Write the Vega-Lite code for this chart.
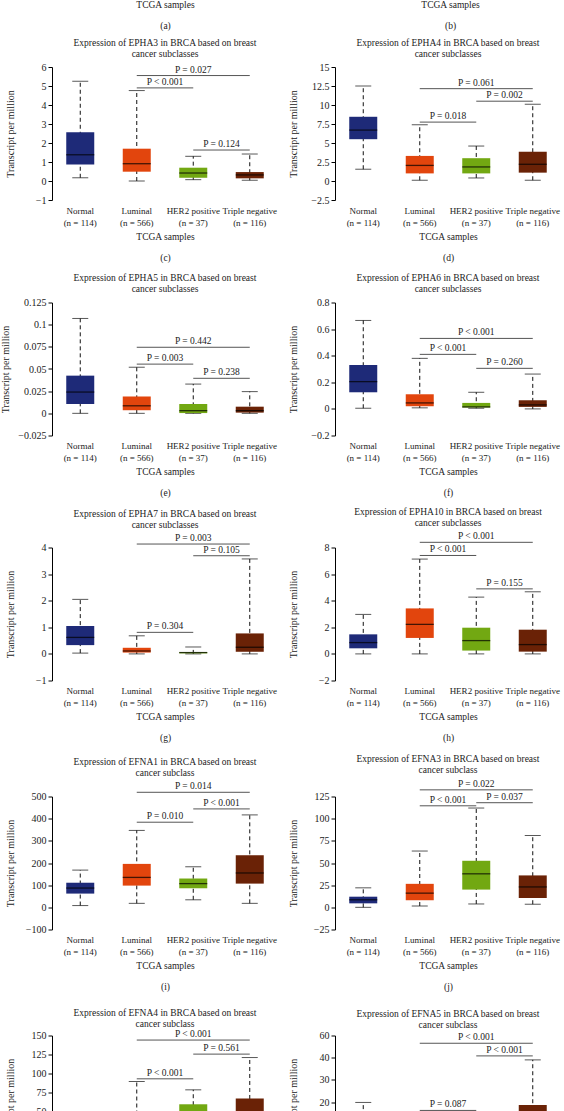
{
"$schema": "https://vega.github.io/schema/vega-lite/v6.json",
"padding": {"top": -3, "left": 0, "right": 0, "bottom": 0},
"background": "white",
"datasets": {
"boxes": [
{"panel":"c","cat":"Normal","min":0.17,"q1":0.87,"med":1.38,"q3":2.57,"max":5.25},
{"panel":"c","cat":"Luminal","min":0.0,"q1":0.49,"med":0.91,"q3":1.70,"max":4.76},
{"panel":"c","cat":"HER2 positive","min":0.07,"q1":0.17,"med":0.42,"q3":0.70,"max":1.30},
{"panel":"c","cat":"Triple negative","min":0.04,"q1":0.14,"med":0.32,"q3":0.47,"max":1.42},
{"panel":"d","cat":"Normal","min":1.55,"q1":5.5,"med":6.7,"q3":8.45,"max":12.5},
{"panel":"d","cat":"Luminal","min":0.1,"q1":1.0,"med":2.05,"q3":3.3,"max":7.4},
{"panel":"d","cat":"HER2 positive","min":0.4,"q1":1.0,"med":1.85,"q3":3.0,"max":4.6},
{"panel":"d","cat":"Triple negative","min":0.1,"q1":1.1,"med":2.2,"q3":3.85,"max":10.1},
{"panel":"e","cat":"Normal","min":0.0,"q1":0.0105,"med":0.024,"q3":0.0425,"max":0.107},
{"panel":"e","cat":"Luminal","min":0.0,"q1":0.0035,"med":0.0085,"q3":0.019,"max":0.052},
{"panel":"e","cat":"HER2 positive","min":0.0,"q1":0.0003,"med":0.003,"q3":0.0105,"max":0.033},
{"panel":"e","cat":"Triple negative","min":0.0,"q1":0.0008,"med":0.003,"q3":0.0075,"max":0.0245},
{"panel":"f","cat":"Normal","min":0.005,"q1":0.125,"med":0.205,"q3":0.33,"max":0.665},
{"panel":"f","cat":"Luminal","min":0.008,"q1":0.02,"med":0.045,"q3":0.11,"max":0.38},
{"panel":"f","cat":"HER2 positive","min":0.005,"q1":0.01,"med":0.015,"q3":0.045,"max":0.125},
{"panel":"f","cat":"Triple negative","min":0.0,"q1":0.015,"med":0.03,"q3":0.065,"max":0.262},
{"panel":"g","cat":"Normal","min":0.03,"q1":0.33,"med":0.62,"q3":1.05,"max":2.05},
{"panel":"g","cat":"Luminal","min":0.0,"q1":0.05,"med":0.11,"q3":0.23,"max":0.68},
{"panel":"g","cat":"HER2 positive","min":0.0,"q1":0.02,"med":0.05,"q3":0.07,"max":0.26},
{"panel":"g","cat":"Triple negative","min":0.0,"q1":0.08,"med":0.25,"q3":0.77,"max":3.57},
{"panel":"h","cat":"Normal","min":0.0,"q1":0.42,"med":0.85,"q3":1.47,"max":2.97},
{"panel":"h","cat":"Luminal","min":0.0,"q1":1.2,"med":2.22,"q3":3.42,"max":7.13},
{"panel":"h","cat":"HER2 positive","min":0.0,"q1":0.25,"med":1.0,"q3":1.97,"max":4.27},
{"panel":"h","cat":"Triple negative","min":0.0,"q1":0.17,"med":0.7,"q3":1.82,"max":4.67},
{"panel":"i","cat":"Normal","min":8,"q1":62,"med":87,"q3":111,"max":168},
{"panel":"i","cat":"Luminal","min":18,"q1":98,"med":135,"q3":196,"max":347},
{"panel":"i","cat":"HER2 positive","min":34,"q1":86,"med":107,"q3":130,"max":183},
{"panel":"i","cat":"Triple negative","min":18,"q1":107,"med":155,"q3":235,"max":417},
{"panel":"j","cat":"Normal","min":0,"q1":4.5,"med":8.5,"q3":12,"max":22},
{"panel":"j","cat":"Luminal","min":1.5,"q1":8,"med":16,"q3":26.5,"max":63.5},
{"panel":"j","cat":"HER2 positive","min":3.8,"q1":20,"med":37.8,"q3":52.5,"max":112},
{"panel":"j","cat":"Triple negative","min":3.5,"q1":10.5,"med":23,"q3":36,"max":81},
{"panel":"k","cat":"Normal","min":1,"q1":4,"med":8,"q3":14,"max":30},
{"panel":"k","cat":"Luminal","min":0,"q1":10,"med":22,"q3":45,"max":89.5},
{"panel":"k","cat":"HER2 positive","min":3,"q1":20,"med":35,"q3":59.5,"max":78.5},
{"panel":"k","cat":"Triple negative","min":2,"q1":15,"med":32,"q3":67,"max":121},
{"panel":"l","cat":"Normal","min":1,"q1":5,"med":8,"q3":11,"max":19.8},
{"panel":"l","cat":"Luminal","min":0,"q1":1.5,"med":3,"q3":6,"max":13},
{"panel":"l","cat":"HER2 positive","min":0.5,"q1":2,"med":4,"q3":7,"max":14},
{"panel":"l","cat":"Triple negative","min":0.5,"q1":4,"med":9,"q3":18.7,"max":39}
],
"pvals": [
{"panel":"c","cat":"Luminal","cat2":"Triple negative","y":5.55,"label":"P = 0.027"},
{"panel":"c","cat":"Luminal","cat2":"HER2 positive","y":4.9,"label":"P < 0.001"},
{"panel":"c","cat":"HER2 positive","cat2":"Triple negative","y":1.63,"label":"P = 0.124"},
{"panel":"d","cat":"Luminal","cat2":"Triple negative","y":12.15,"label":"P = 0.061"},
{"panel":"d","cat":"HER2 positive","cat2":"Triple negative","y":10.5,"label":"P = 0.002"},
{"panel":"d","cat":"Luminal","cat2":"HER2 positive","y":7.75,"label":"P = 0.018"},
{"panel":"e","cat":"Luminal","cat2":"Triple negative","y":0.0745,"label":"P = 0.442"},
{"panel":"e","cat":"Luminal","cat2":"HER2 positive","y":0.0555,"label":"P = 0.003"},
{"panel":"e","cat":"HER2 positive","cat2":"Triple negative","y":0.0395,"label":"P = 0.238"},
{"panel":"f","cat":"Luminal","cat2":"Triple negative","y":0.53,"label":"P < 0.001"},
{"panel":"f","cat":"Luminal","cat2":"HER2 positive","y":0.41,"label":"P < 0.001"},
{"panel":"f","cat":"HER2 positive","cat2":"Triple negative","y":0.305,"label":"P = 0.260"},
{"panel":"g","cat":"Luminal","cat2":"Triple negative","y":4.13,"label":"P = 0.003"},
{"panel":"g","cat":"HER2 positive","cat2":"Triple negative","y":3.69,"label":"P = 0.105"},
{"panel":"g","cat":"Luminal","cat2":"HER2 positive","y":0.81,"label":"P = 0.304"},
{"panel":"h","cat":"Luminal","cat2":"Triple negative","y":8.39,"label":"P < 0.001"},
{"panel":"h","cat":"Luminal","cat2":"HER2 positive","y":7.4,"label":"P < 0.001"},
{"panel":"h","cat":"HER2 positive","cat2":"Triple negative","y":4.89,"label":"P = 0.155"},
{"panel":"i","cat":"Luminal","cat2":"Triple negative","y":519,"label":"P = 0.014"},
{"panel":"i","cat":"HER2 positive","cat2":"Triple negative","y":444,"label":"P < 0.001"},
{"panel":"i","cat":"Luminal","cat2":"HER2 positive","y":384,"label":"P = 0.010"},
{"panel":"j","cat":"Luminal","cat2":"Triple negative","y":132.5,"label":"P = 0.022"},
{"panel":"j","cat":"HER2 positive","cat2":"Triple negative","y":118,"label":"P = 0.037"},
{"panel":"j","cat":"Luminal","cat2":"HER2 positive","y":114.5,"label":"P < 0.001"},
{"panel":"k","cat":"Luminal","cat2":"Triple negative","y":144,"label":"P < 0.001"},
{"panel":"k","cat":"HER2 positive","cat2":"Triple negative","y":125.5,"label":"P = 0.561"},
{"panel":"k","cat":"Luminal","cat2":"HER2 positive","y":93,"label":"P < 0.001"},
{"panel":"l","cat":"Luminal","cat2":"Triple negative","y":46.5,"label":"P < 0.001"},
{"panel":"l","cat":"HER2 positive","cat2":"Triple negative","y":40.8,"label":"P < 0.001"},
{"panel":"l","cat":"Luminal","cat2":"HER2 positive","y":16.2,"label":"P = 0.087"}
]
},
"config": {
"font": "Liberation Serif",
"view": {"stroke": null},
"title": {"font": "Liberation Serif", "fontSize": 9.5, "fontWeight": "normal", "color": "#222", "lineHeight": 11, "offset": 4, "anchor": "middle", "frame": "group"},
"axis": {"grid": false, "labelFont": "Liberation Serif", "titleFont": "Liberation Serif", "labelColor": "#222", "titleColor": "#222", "titleFontWeight": "normal"},
"axisX": {"ticks": false, "domain": false, "labelAngle": 0, "labelFontSize": 9, "labelLineHeight": 12, "labelPadding": 6, "labelOverlap": false, "titleFontSize": 9.5, "titleLineHeight": 21, "titlePadding": 4},
"axisY": {"tickSize": 4, "tickColor": "#000", "domainColor": "#000", "labelFontSize": 10, "labelPadding": 2, "titleFontSize": 10, "titlePadding": 7, "minExtent": 30, "format": ".3~f", "tickCount": 20}
},
"spacing": 16.5,
"vconcat": [
{"spacing": 11.5, "vconcat": [
{"spacing": 9.5, "vconcat": [
{"spacing": 10.5, "vconcat": [
{"spacing": 7, "vconcat": [
{"hconcat": [
{"width": 226, "height": 1, "data": {"name": "boxes"}, "transform": [{"filter": "datum.panel == 'c'"}], "mark": {"type": "tick", "opacity": 0}, "encoding": {"x": {"field": "cat", "type": "nominal", "scale": {"domain": ["Normal","Luminal","HER2 positive","Triple negative"]}, "axis": {"labels": false, "labelPadding": 0, "title": ["TCGA samples", "(a)"], "titlePadding": 0}}, "y": {"field": "max", "type": "quantitative", "axis": {"labels": false, "ticks": false, "domain": false, "title": null, "minExtent": 49, "maxExtent": 49}}}},
{"width": 226, "height": 1, "data": {"name": "boxes"}, "transform": [{"filter": "datum.panel == 'd'"}], "mark": {"type": "tick", "opacity": 0}, "encoding": {"x": {"field": "cat", "type": "nominal", "scale": {"domain": ["Normal","Luminal","HER2 positive","Triple negative"]}, "axis": {"labels": false, "labelPadding": 0, "title": ["TCGA samples", "(b)"], "titlePadding": 0}}, "y": {"field": "max", "type": "quantitative", "axis": {"labels": false, "ticks": false, "domain": false, "title": null, "minExtent": 49, "maxExtent": 49}}}}
], "spacing": 10},
{"hconcat": [
{"width": 226, "height": 133, "title": {"text": ["Expression of EPHA3 in BRCA based on breast", "cancer subclasses"]}, "data": {"name": "boxes"}, "transform": [{"filter": "datum.panel == 'c'"}],
"encoding": {"x": {"field": "cat", "type": "nominal", "scale": {"domain": ["Normal","Luminal","HER2 positive","Triple negative"], "paddingInner": 0, "paddingOuter": 0}, "axis": {"title": ["TCGA samples", "(c)"], "labelExpr": "datum.value == 'Normal' ? ['Normal', '(n = 114)'] : datum.value == 'Luminal' ? ['Luminal', '(n = 566)'] : datum.value == 'HER2 positive' ? ['HER2 positive', '(n = 37)'] : ['Triple negative', '(n = 116)']"}}},
"layer": [
{"mark": {"type": "rule", "strokeDash": [4, 3], "color": "#111"}, "encoding": {"y": {"field": "min", "type": "quantitative", "scale": {"domain": [-1, 6], "nice": false, "zero": false}, "axis": {"values": [-1,0,1,2,3,4,5,6], "tickCount": 20, "title": "Transcript per million"}}, "y2": {"field": "max"}}},
{"mark": {"type": "tick", "orient": "horizontal", "size": 16, "thickness": 1, "color": "#111"}, "encoding": {"y": {"field": "max", "type": "quantitative"}}},
{"mark": {"type": "tick", "orient": "horizontal", "size": 16, "thickness": 1, "color": "#111"}, "encoding": {"y": {"field": "min", "type": "quantitative"}}},
{"mark": {"type": "bar", "width": 28}, "encoding": {"y": {"field": "q1", "type": "quantitative"}, "y2": {"field": "q3"}, "color": {"field": "cat", "type": "nominal", "scale": {"domain": ["Normal","Luminal","HER2 positive","Triple negative"], "range": ["#1e2a78","#e2450d","#72a812","#6a2206"]}, "legend": null}}},
{"mark": {"type": "tick", "orient": "horizontal", "size": 28, "thickness": 1.3, "color": "#000"}, "encoding": {"y": {"field": "med", "type": "quantitative"}}},
{"data": {"name": "pvals"}, "transform": [{"filter": "datum.panel == 'c'"}], "mark": {"type": "rule", "color": "#555"}, "encoding": {"x2": {"field": "cat2"}, "y": {"field": "y", "type": "quantitative"}}},
{"data": {"name": "pvals"}, "transform": [{"filter": "datum.panel == 'c' && datum.cat == 'Luminal' && datum.cat2 == 'Triple negative'"}], "mark": {"type": "text", "baseline": "bottom", "dy": -1, "fontSize": 9.5, "color": "#222"}, "encoding": {"x": {"field": "cat", "type": "nominal", "bandPosition": 1.5}, "y": {"field": "y", "type": "quantitative"}, "text": {"field": "label"}}},
{"data": {"name": "pvals"}, "transform": [{"filter": "datum.panel == 'c' && !(datum.cat == 'Luminal' && datum.cat2 == 'Triple negative')"}], "mark": {"type": "text", "baseline": "bottom", "dy": -1, "fontSize": 9.5, "color": "#222"}, "encoding": {"x": {"field": "cat", "type": "nominal", "bandPosition": 1}, "y": {"field": "y", "type": "quantitative"}, "text": {"field": "label"}}}
]},
{"width": 226, "height": 133, "title": {"text": ["Expression of EPHA4 in BRCA based on breast", "cancer subclasses"]}, "data": {"name": "boxes"}, "transform": [{"filter": "datum.panel == 'd'"}],
"encoding": {"x": {"field": "cat", "type": "nominal", "scale": {"domain": ["Normal","Luminal","HER2 positive","Triple negative"], "paddingInner": 0, "paddingOuter": 0}, "axis": {"title": ["TCGA samples", "(d)"], "labelExpr": "datum.value == 'Normal' ? ['Normal', '(n = 114)'] : datum.value == 'Luminal' ? ['Luminal', '(n = 566)'] : datum.value == 'HER2 positive' ? ['HER2 positive', '(n = 37)'] : ['Triple negative', '(n = 116)']"}}},
"layer": [
{"mark": {"type": "rule", "strokeDash": [4, 3], "color": "#111"}, "encoding": {"y": {"field": "min", "type": "quantitative", "scale": {"domain": [-2.5, 15], "nice": false, "zero": false}, "axis": {"values": [-2.5,0,2.5,5,7.5,10,12.5,15], "tickCount": 20, "title": "Transcript per million"}}, "y2": {"field": "max"}}},
{"mark": {"type": "tick", "orient": "horizontal", "size": 16, "thickness": 1, "color": "#111"}, "encoding": {"y": {"field": "max", "type": "quantitative"}}},
{"mark": {"type": "tick", "orient": "horizontal", "size": 16, "thickness": 1, "color": "#111"}, "encoding": {"y": {"field": "min", "type": "quantitative"}}},
{"mark": {"type": "bar", "width": 28}, "encoding": {"y": {"field": "q1", "type": "quantitative"}, "y2": {"field": "q3"}, "color": {"field": "cat", "type": "nominal", "scale": {"domain": ["Normal","Luminal","HER2 positive","Triple negative"], "range": ["#1e2a78","#e2450d","#72a812","#6a2206"]}, "legend": null}}},
{"mark": {"type": "tick", "orient": "horizontal", "size": 28, "thickness": 1.3, "color": "#000"}, "encoding": {"y": {"field": "med", "type": "quantitative"}}},
{"data": {"name": "pvals"}, "transform": [{"filter": "datum.panel == 'd'"}], "mark": {"type": "rule", "color": "#555"}, "encoding": {"x2": {"field": "cat2"}, "y": {"field": "y", "type": "quantitative"}}},
{"data": {"name": "pvals"}, "transform": [{"filter": "datum.panel == 'd' && datum.cat == 'Luminal' && datum.cat2 == 'Triple negative'"}], "mark": {"type": "text", "baseline": "bottom", "dy": -1, "fontSize": 9.5, "color": "#222"}, "encoding": {"x": {"field": "cat", "type": "nominal", "bandPosition": 1.5}, "y": {"field": "y", "type": "quantitative"}, "text": {"field": "label"}}},
{"data": {"name": "pvals"}, "transform": [{"filter": "datum.panel == 'd' && !(datum.cat == 'Luminal' && datum.cat2 == 'Triple negative')"}], "mark": {"type": "text", "baseline": "bottom", "dy": -1, "fontSize": 9.5, "color": "#222"}, "encoding": {"x": {"field": "cat", "type": "nominal", "bandPosition": 1}, "y": {"field": "y", "type": "quantitative"}, "text": {"field": "label"}}}
]}
], "spacing": 10}
]},
{"hconcat": [
{"width": 226, "height": 133, "title": {"text": ["Expression of EPHA5 in BRCA based on breast", "cancer subclasses"]}, "data": {"name": "boxes"}, "transform": [{"filter": "datum.panel == 'e'"}],
"encoding": {"x": {"field": "cat", "type": "nominal", "scale": {"domain": ["Normal","Luminal","HER2 positive","Triple negative"], "paddingInner": 0, "paddingOuter": 0}, "axis": {"title": ["TCGA samples", "(e)"], "labelExpr": "datum.value == 'Normal' ? ['Normal', '(n = 114)'] : datum.value == 'Luminal' ? ['Luminal', '(n = 566)'] : datum.value == 'HER2 positive' ? ['HER2 positive', '(n = 37)'] : ['Triple negative', '(n = 116)']"}}},
"layer": [
{"mark": {"type": "rule", "strokeDash": [4, 3], "color": "#111"}, "encoding": {"y": {"field": "min", "type": "quantitative", "scale": {"domain": [-0.025, 0.125], "nice": false, "zero": false}, "axis": {"values": [-0.025,0,0.025,0.05,0.075,0.1,0.125], "tickCount": 20, "title": "Transcript per million"}}, "y2": {"field": "max"}}},
{"mark": {"type": "tick", "orient": "horizontal", "size": 16, "thickness": 1, "color": "#111"}, "encoding": {"y": {"field": "max", "type": "quantitative"}}},
{"mark": {"type": "tick", "orient": "horizontal", "size": 16, "thickness": 1, "color": "#111"}, "encoding": {"y": {"field": "min", "type": "quantitative"}}},
{"mark": {"type": "bar", "width": 28}, "encoding": {"y": {"field": "q1", "type": "quantitative"}, "y2": {"field": "q3"}, "color": {"field": "cat", "type": "nominal", "scale": {"domain": ["Normal","Luminal","HER2 positive","Triple negative"], "range": ["#1e2a78","#e2450d","#72a812","#6a2206"]}, "legend": null}}},
{"mark": {"type": "tick", "orient": "horizontal", "size": 28, "thickness": 1.3, "color": "#000"}, "encoding": {"y": {"field": "med", "type": "quantitative"}}},
{"data": {"name": "pvals"}, "transform": [{"filter": "datum.panel == 'e'"}], "mark": {"type": "rule", "color": "#555"}, "encoding": {"x2": {"field": "cat2"}, "y": {"field": "y", "type": "quantitative"}}},
{"data": {"name": "pvals"}, "transform": [{"filter": "datum.panel == 'e' && datum.cat == 'Luminal' && datum.cat2 == 'Triple negative'"}], "mark": {"type": "text", "baseline": "bottom", "dy": -1, "fontSize": 9.5, "color": "#222"}, "encoding": {"x": {"field": "cat", "type": "nominal", "bandPosition": 1.5}, "y": {"field": "y", "type": "quantitative"}, "text": {"field": "label"}}},
{"data": {"name": "pvals"}, "transform": [{"filter": "datum.panel == 'e' && !(datum.cat == 'Luminal' && datum.cat2 == 'Triple negative')"}], "mark": {"type": "text", "baseline": "bottom", "dy": -1, "fontSize": 9.5, "color": "#222"}, "encoding": {"x": {"field": "cat", "type": "nominal", "bandPosition": 1}, "y": {"field": "y", "type": "quantitative"}, "text": {"field": "label"}}}
]},
{"width": 226, "height": 133, "title": {"text": ["Expression of EPHA6 in BRCA based on breast", "cancer subclasses"]}, "data": {"name": "boxes"}, "transform": [{"filter": "datum.panel == 'f'"}],
"encoding": {"x": {"field": "cat", "type": "nominal", "scale": {"domain": ["Normal","Luminal","HER2 positive","Triple negative"], "paddingInner": 0, "paddingOuter": 0}, "axis": {"title": ["TCGA samples", "(f)"], "labelExpr": "datum.value == 'Normal' ? ['Normal', '(n = 114)'] : datum.value == 'Luminal' ? ['Luminal', '(n = 566)'] : datum.value == 'HER2 positive' ? ['HER2 positive', '(n = 37)'] : ['Triple negative', '(n = 116)']"}}},
"layer": [
{"mark": {"type": "rule", "strokeDash": [4, 3], "color": "#111"}, "encoding": {"y": {"field": "min", "type": "quantitative", "scale": {"domain": [-0.2, 0.8], "nice": false, "zero": false}, "axis": {"values": [-0.2,0,0.2,0.4,0.6,0.8], "tickCount": 20, "title": "Transcript per million"}}, "y2": {"field": "max"}}},
{"mark": {"type": "tick", "orient": "horizontal", "size": 16, "thickness": 1, "color": "#111"}, "encoding": {"y": {"field": "max", "type": "quantitative"}}},
{"mark": {"type": "tick", "orient": "horizontal", "size": 16, "thickness": 1, "color": "#111"}, "encoding": {"y": {"field": "min", "type": "quantitative"}}},
{"mark": {"type": "bar", "width": 28}, "encoding": {"y": {"field": "q1", "type": "quantitative"}, "y2": {"field": "q3"}, "color": {"field": "cat", "type": "nominal", "scale": {"domain": ["Normal","Luminal","HER2 positive","Triple negative"], "range": ["#1e2a78","#e2450d","#72a812","#6a2206"]}, "legend": null}}},
{"mark": {"type": "tick", "orient": "horizontal", "size": 28, "thickness": 1.3, "color": "#000"}, "encoding": {"y": {"field": "med", "type": "quantitative"}}},
{"data": {"name": "pvals"}, "transform": [{"filter": "datum.panel == 'f'"}], "mark": {"type": "rule", "color": "#555"}, "encoding": {"x2": {"field": "cat2"}, "y": {"field": "y", "type": "quantitative"}}},
{"data": {"name": "pvals"}, "transform": [{"filter": "datum.panel == 'f' && datum.cat == 'Luminal' && datum.cat2 == 'Triple negative'"}], "mark": {"type": "text", "baseline": "bottom", "dy": -1, "fontSize": 9.5, "color": "#222"}, "encoding": {"x": {"field": "cat", "type": "nominal", "bandPosition": 1.5}, "y": {"field": "y", "type": "quantitative"}, "text": {"field": "label"}}},
{"data": {"name": "pvals"}, "transform": [{"filter": "datum.panel == 'f' && !(datum.cat == 'Luminal' && datum.cat2 == 'Triple negative')"}], "mark": {"type": "text", "baseline": "bottom", "dy": -1, "fontSize": 9.5, "color": "#222"}, "encoding": {"x": {"field": "cat", "type": "nominal", "bandPosition": 1}, "y": {"field": "y", "type": "quantitative"}, "text": {"field": "label"}}}
]}
], "spacing": 10}
]},
{"hconcat": [
{"width": 226, "height": 133, "title": {"text": ["Expression of EPHA7 in BRCA based on breast", "cancer subclasses"]}, "data": {"name": "boxes"}, "transform": [{"filter": "datum.panel == 'g'"}],
"encoding": {"x": {"field": "cat", "type": "nominal", "scale": {"domain": ["Normal","Luminal","HER2 positive","Triple negative"], "paddingInner": 0, "paddingOuter": 0}, "axis": {"title": ["TCGA samples", "(g)"], "labelExpr": "datum.value == 'Normal' ? ['Normal', '(n = 114)'] : datum.value == 'Luminal' ? ['Luminal', '(n = 566)'] : datum.value == 'HER2 positive' ? ['HER2 positive', '(n = 37)'] : ['Triple negative', '(n = 116)']"}}},
"layer": [
{"mark": {"type": "rule", "strokeDash": [4, 3], "color": "#111"}, "encoding": {"y": {"field": "min", "type": "quantitative", "scale": {"domain": [-1, 4], "nice": false, "zero": false}, "axis": {"values": [-1,0,1,2,3,4], "tickCount": 20, "title": "Transcript per million"}}, "y2": {"field": "max"}}},
{"mark": {"type": "tick", "orient": "horizontal", "size": 16, "thickness": 1, "color": "#111"}, "encoding": {"y": {"field": "max", "type": "quantitative"}}},
{"mark": {"type": "tick", "orient": "horizontal", "size": 16, "thickness": 1, "color": "#111"}, "encoding": {"y": {"field": "min", "type": "quantitative"}}},
{"mark": {"type": "bar", "width": 28}, "encoding": {"y": {"field": "q1", "type": "quantitative"}, "y2": {"field": "q3"}, "color": {"field": "cat", "type": "nominal", "scale": {"domain": ["Normal","Luminal","HER2 positive","Triple negative"], "range": ["#1e2a78","#e2450d","#72a812","#6a2206"]}, "legend": null}}},
{"mark": {"type": "tick", "orient": "horizontal", "size": 28, "thickness": 1.3, "color": "#000"}, "encoding": {"y": {"field": "med", "type": "quantitative"}}},
{"data": {"name": "pvals"}, "transform": [{"filter": "datum.panel == 'g'"}], "mark": {"type": "rule", "color": "#555"}, "encoding": {"x2": {"field": "cat2"}, "y": {"field": "y", "type": "quantitative"}}},
{"data": {"name": "pvals"}, "transform": [{"filter": "datum.panel == 'g' && datum.cat == 'Luminal' && datum.cat2 == 'Triple negative'"}], "mark": {"type": "text", "baseline": "bottom", "dy": -1, "fontSize": 9.5, "color": "#222"}, "encoding": {"x": {"field": "cat", "type": "nominal", "bandPosition": 1.5}, "y": {"field": "y", "type": "quantitative"}, "text": {"field": "label"}}},
{"data": {"name": "pvals"}, "transform": [{"filter": "datum.panel == 'g' && !(datum.cat == 'Luminal' && datum.cat2 == 'Triple negative')"}], "mark": {"type": "text", "baseline": "bottom", "dy": -1, "fontSize": 9.5, "color": "#222"}, "encoding": {"x": {"field": "cat", "type": "nominal", "bandPosition": 1}, "y": {"field": "y", "type": "quantitative"}, "text": {"field": "label"}}}
]},
{"width": 226, "height": 133, "title": {"text": ["Expression of EPHA10 in BRCA based on breast", "cancer subclasses"]}, "data": {"name": "boxes"}, "transform": [{"filter": "datum.panel == 'h'"}],
"encoding": {"x": {"field": "cat", "type": "nominal", "scale": {"domain": ["Normal","Luminal","HER2 positive","Triple negative"], "paddingInner": 0, "paddingOuter": 0}, "axis": {"title": ["TCGA samples", "(h)"], "labelExpr": "datum.value == 'Normal' ? ['Normal', '(n = 114)'] : datum.value == 'Luminal' ? ['Luminal', '(n = 566)'] : datum.value == 'HER2 positive' ? ['HER2 positive', '(n = 37)'] : ['Triple negative', '(n = 116)']"}}},
"layer": [
{"mark": {"type": "rule", "strokeDash": [4, 3], "color": "#111"}, "encoding": {"y": {"field": "min", "type": "quantitative", "scale": {"domain": [-2, 8], "nice": false, "zero": false}, "axis": {"values": [-2,0,2,4,6,8], "tickCount": 20, "title": "Transcript per million"}}, "y2": {"field": "max"}}},
{"mark": {"type": "tick", "orient": "horizontal", "size": 16, "thickness": 1, "color": "#111"}, "encoding": {"y": {"field": "max", "type": "quantitative"}}},
{"mark": {"type": "tick", "orient": "horizontal", "size": 16, "thickness": 1, "color": "#111"}, "encoding": {"y": {"field": "min", "type": "quantitative"}}},
{"mark": {"type": "bar", "width": 28}, "encoding": {"y": {"field": "q1", "type": "quantitative"}, "y2": {"field": "q3"}, "color": {"field": "cat", "type": "nominal", "scale": {"domain": ["Normal","Luminal","HER2 positive","Triple negative"], "range": ["#1e2a78","#e2450d","#72a812","#6a2206"]}, "legend": null}}},
{"mark": {"type": "tick", "orient": "horizontal", "size": 28, "thickness": 1.3, "color": "#000"}, "encoding": {"y": {"field": "med", "type": "quantitative"}}},
{"data": {"name": "pvals"}, "transform": [{"filter": "datum.panel == 'h'"}], "mark": {"type": "rule", "color": "#555"}, "encoding": {"x2": {"field": "cat2"}, "y": {"field": "y", "type": "quantitative"}}},
{"data": {"name": "pvals"}, "transform": [{"filter": "datum.panel == 'h' && datum.cat == 'Luminal' && datum.cat2 == 'Triple negative'"}], "mark": {"type": "text", "baseline": "bottom", "dy": -1, "fontSize": 9.5, "color": "#222"}, "encoding": {"x": {"field": "cat", "type": "nominal", "bandPosition": 1.5}, "y": {"field": "y", "type": "quantitative"}, "text": {"field": "label"}}},
{"data": {"name": "pvals"}, "transform": [{"filter": "datum.panel == 'h' && !(datum.cat == 'Luminal' && datum.cat2 == 'Triple negative')"}], "mark": {"type": "text", "baseline": "bottom", "dy": -1, "fontSize": 9.5, "color": "#222"}, "encoding": {"x": {"field": "cat", "type": "nominal", "bandPosition": 1}, "y": {"field": "y", "type": "quantitative"}, "text": {"field": "label"}}}
]}
], "spacing": 10}
]},
{"hconcat": [
{"width": 226, "height": 133, "title": {"text": ["Expression of EFNA1 in BRCA based on breast", "cancer subclass"]}, "data": {"name": "boxes"}, "transform": [{"filter": "datum.panel == 'i'"}],
"encoding": {"x": {"field": "cat", "type": "nominal", "scale": {"domain": ["Normal","Luminal","HER2 positive","Triple negative"], "paddingInner": 0, "paddingOuter": 0}, "axis": {"title": ["TCGA samples", "(i)"], "labelExpr": "datum.value == 'Normal' ? ['Normal', '(n = 114)'] : datum.value == 'Luminal' ? ['Luminal', '(n = 566)'] : datum.value == 'HER2 positive' ? ['HER2 positive', '(n = 37)'] : ['Triple negative', '(n = 116)']"}}},
"layer": [
{"mark": {"type": "rule", "strokeDash": [4, 3], "color": "#111"}, "encoding": {"y": {"field": "min", "type": "quantitative", "scale": {"domain": [-100, 500], "nice": false, "zero": false}, "axis": {"values": [-100,0,100,200,300,400,500], "tickCount": 20, "title": "Transcript per million"}}, "y2": {"field": "max"}}},
{"mark": {"type": "tick", "orient": "horizontal", "size": 16, "thickness": 1, "color": "#111"}, "encoding": {"y": {"field": "max", "type": "quantitative"}}},
{"mark": {"type": "tick", "orient": "horizontal", "size": 16, "thickness": 1, "color": "#111"}, "encoding": {"y": {"field": "min", "type": "quantitative"}}},
{"mark": {"type": "bar", "width": 28}, "encoding": {"y": {"field": "q1", "type": "quantitative"}, "y2": {"field": "q3"}, "color": {"field": "cat", "type": "nominal", "scale": {"domain": ["Normal","Luminal","HER2 positive","Triple negative"], "range": ["#1e2a78","#e2450d","#72a812","#6a2206"]}, "legend": null}}},
{"mark": {"type": "tick", "orient": "horizontal", "size": 28, "thickness": 1.3, "color": "#000"}, "encoding": {"y": {"field": "med", "type": "quantitative"}}},
{"data": {"name": "pvals"}, "transform": [{"filter": "datum.panel == 'i'"}], "mark": {"type": "rule", "color": "#555"}, "encoding": {"x2": {"field": "cat2"}, "y": {"field": "y", "type": "quantitative"}}},
{"data": {"name": "pvals"}, "transform": [{"filter": "datum.panel == 'i' && datum.cat == 'Luminal' && datum.cat2 == 'Triple negative'"}], "mark": {"type": "text", "baseline": "bottom", "dy": -1, "fontSize": 9.5, "color": "#222"}, "encoding": {"x": {"field": "cat", "type": "nominal", "bandPosition": 1.5}, "y": {"field": "y", "type": "quantitative"}, "text": {"field": "label"}}},
{"data": {"name": "pvals"}, "transform": [{"filter": "datum.panel == 'i' && !(datum.cat == 'Luminal' && datum.cat2 == 'Triple negative')"}], "mark": {"type": "text", "baseline": "bottom", "dy": -1, "fontSize": 9.5, "color": "#222"}, "encoding": {"x": {"field": "cat", "type": "nominal", "bandPosition": 1}, "y": {"field": "y", "type": "quantitative"}, "text": {"field": "label"}}}
]},
{"width": 226, "height": 133, "title": {"text": ["Expression of EFNA3 in BRCA based on breast", "cancer subclass"]}, "data": {"name": "boxes"}, "transform": [{"filter": "datum.panel == 'j'"}],
"encoding": {"x": {"field": "cat", "type": "nominal", "scale": {"domain": ["Normal","Luminal","HER2 positive","Triple negative"], "paddingInner": 0, "paddingOuter": 0}, "axis": {"title": ["TCGA samples", "(j)"], "labelExpr": "datum.value == 'Normal' ? ['Normal', '(n = 114)'] : datum.value == 'Luminal' ? ['Luminal', '(n = 566)'] : datum.value == 'HER2 positive' ? ['HER2 positive', '(n = 37)'] : ['Triple negative', '(n = 116)']"}}},
"layer": [
{"mark": {"type": "rule", "strokeDash": [4, 3], "color": "#111"}, "encoding": {"y": {"field": "min", "type": "quantitative", "scale": {"domain": [-25, 125], "nice": false, "zero": false}, "axis": {"values": [-25,0,25,50,75,100,125], "tickCount": 20, "title": "Transcript per million"}}, "y2": {"field": "max"}}},
{"mark": {"type": "tick", "orient": "horizontal", "size": 16, "thickness": 1, "color": "#111"}, "encoding": {"y": {"field": "max", "type": "quantitative"}}},
{"mark": {"type": "tick", "orient": "horizontal", "size": 16, "thickness": 1, "color": "#111"}, "encoding": {"y": {"field": "min", "type": "quantitative"}}},
{"mark": {"type": "bar", "width": 28}, "encoding": {"y": {"field": "q1", "type": "quantitative"}, "y2": {"field": "q3"}, "color": {"field": "cat", "type": "nominal", "scale": {"domain": ["Normal","Luminal","HER2 positive","Triple negative"], "range": ["#1e2a78","#e2450d","#72a812","#6a2206"]}, "legend": null}}},
{"mark": {"type": "tick", "orient": "horizontal", "size": 28, "thickness": 1.3, "color": "#000"}, "encoding": {"y": {"field": "med", "type": "quantitative"}}},
{"data": {"name": "pvals"}, "transform": [{"filter": "datum.panel == 'j'"}], "mark": {"type": "rule", "color": "#555"}, "encoding": {"x2": {"field": "cat2"}, "y": {"field": "y", "type": "quantitative"}}},
{"data": {"name": "pvals"}, "transform": [{"filter": "datum.panel == 'j' && datum.cat == 'Luminal' && datum.cat2 == 'Triple negative'"}], "mark": {"type": "text", "baseline": "bottom", "dy": -1, "fontSize": 9.5, "color": "#222"}, "encoding": {"x": {"field": "cat", "type": "nominal", "bandPosition": 1.5}, "y": {"field": "y", "type": "quantitative"}, "text": {"field": "label"}}},
{"data": {"name": "pvals"}, "transform": [{"filter": "datum.panel == 'j' && !(datum.cat == 'Luminal' && datum.cat2 == 'Triple negative')"}], "mark": {"type": "text", "baseline": "bottom", "dy": -1, "fontSize": 9.5, "color": "#222"}, "encoding": {"x": {"field": "cat", "type": "nominal", "bandPosition": 1}, "y": {"field": "y", "type": "quantitative"}, "text": {"field": "label"}}}
]}
], "spacing": 10}
]},
{"hconcat": [
{"width": 226, "height": 133, "title": {"text": ["Expression of EFNA4 in BRCA based on breast", "cancer subclass"], "offset": 1}, "data": {"name": "boxes"}, "transform": [{"filter": "datum.panel == 'k'"}],
"encoding": {"x": {"field": "cat", "type": "nominal", "scale": {"domain": ["Normal","Luminal","HER2 positive","Triple negative"], "paddingInner": 0, "paddingOuter": 0}, "axis": {"title": ["TCGA samples", "(k)"], "labelExpr": "datum.value == 'Normal' ? ['Normal', '(n = 114)'] : datum.value == 'Luminal' ? ['Luminal', '(n = 566)'] : datum.value == 'HER2 positive' ? ['HER2 positive', '(n = 37)'] : ['Triple negative', '(n = 116)']"}}},
"layer": [
{"mark": {"type": "rule", "strokeDash": [4, 3], "color": "#111"}, "encoding": {"y": {"field": "min", "type": "quantitative", "scale": {"domain": [-25, 150], "nice": false, "zero": false}, "axis": {"values": [-25,0,25,50,75,100,125,150], "tickCount": 20, "title": "Transcript per million"}}, "y2": {"field": "max"}}},
{"mark": {"type": "tick", "orient": "horizontal", "size": 16, "thickness": 1, "color": "#111"}, "encoding": {"y": {"field": "max", "type": "quantitative"}}},
{"mark": {"type": "tick", "orient": "horizontal", "size": 16, "thickness": 1, "color": "#111"}, "encoding": {"y": {"field": "min", "type": "quantitative"}}},
{"mark": {"type": "bar", "width": 28}, "encoding": {"y": {"field": "q1", "type": "quantitative"}, "y2": {"field": "q3"}, "color": {"field": "cat", "type": "nominal", "scale": {"domain": ["Normal","Luminal","HER2 positive","Triple negative"], "range": ["#1e2a78","#e2450d","#72a812","#6a2206"]}, "legend": null}}},
{"mark": {"type": "tick", "orient": "horizontal", "size": 28, "thickness": 1.3, "color": "#000"}, "encoding": {"y": {"field": "med", "type": "quantitative"}}},
{"data": {"name": "pvals"}, "transform": [{"filter": "datum.panel == 'k'"}], "mark": {"type": "rule", "color": "#555"}, "encoding": {"x2": {"field": "cat2"}, "y": {"field": "y", "type": "quantitative"}}},
{"data": {"name": "pvals"}, "transform": [{"filter": "datum.panel == 'k' && datum.cat == 'Luminal' && datum.cat2 == 'Triple negative'"}], "mark": {"type": "text", "baseline": "bottom", "dy": -1, "fontSize": 9.5, "color": "#222"}, "encoding": {"x": {"field": "cat", "type": "nominal", "bandPosition": 1.5}, "y": {"field": "y", "type": "quantitative"}, "text": {"field": "label"}}},
{"data": {"name": "pvals"}, "transform": [{"filter": "datum.panel == 'k' && !(datum.cat == 'Luminal' && datum.cat2 == 'Triple negative')"}], "mark": {"type": "text", "baseline": "bottom", "dy": -1, "fontSize": 9.5, "color": "#222"}, "encoding": {"x": {"field": "cat", "type": "nominal", "bandPosition": 1}, "y": {"field": "y", "type": "quantitative"}, "text": {"field": "label"}}}
]},
{"width": 226, "height": 133, "title": {"text": ["Expression of EFNA5 in BRCA based on breast", "cancer subclass"], "offset": 1}, "data": {"name": "boxes"}, "transform": [{"filter": "datum.panel == 'l'"}],
"encoding": {"x": {"field": "cat", "type": "nominal", "scale": {"domain": ["Normal","Luminal","HER2 positive","Triple negative"], "paddingInner": 0, "paddingOuter": 0}, "axis": {"title": ["TCGA samples", "(l)"], "labelExpr": "datum.value == 'Normal' ? ['Normal', '(n = 114)'] : datum.value == 'Luminal' ? ['Luminal', '(n = 566)'] : datum.value == 'HER2 positive' ? ['HER2 positive', '(n = 37)'] : ['Triple negative', '(n = 116)']"}}},
"layer": [
{"mark": {"type": "rule", "strokeDash": [4, 3], "color": "#111"}, "encoding": {"y": {"field": "min", "type": "quantitative", "scale": {"domain": [-10, 50], "nice": false, "zero": false}, "axis": {"values": [-10,0,10,20,30,40,50], "tickCount": 20, "labelExpr": "datum.value == 50 ? '60' : datum.label", "title": "Transcript per million"}}, "y2": {"field": "max"}}},
{"mark": {"type": "tick", "orient": "horizontal", "size": 16, "thickness": 1, "color": "#111"}, "encoding": {"y": {"field": "max", "type": "quantitative"}}},
{"mark": {"type": "tick", "orient": "horizontal", "size": 16, "thickness": 1, "color": "#111"}, "encoding": {"y": {"field": "min", "type": "quantitative"}}},
{"mark": {"type": "bar", "width": 28}, "encoding": {"y": {"field": "q1", "type": "quantitative"}, "y2": {"field": "q3"}, "color": {"field": "cat", "type": "nominal", "scale": {"domain": ["Normal","Luminal","HER2 positive","Triple negative"], "range": ["#1e2a78","#e2450d","#72a812","#6a2206"]}, "legend": null}}},
{"mark": {"type": "tick", "orient": "horizontal", "size": 28, "thickness": 1.3, "color": "#000"}, "encoding": {"y": {"field": "med", "type": "quantitative"}}},
{"data": {"name": "pvals"}, "transform": [{"filter": "datum.panel == 'l'"}], "mark": {"type": "rule", "color": "#555"}, "encoding": {"x2": {"field": "cat2"}, "y": {"field": "y", "type": "quantitative"}}},
{"data": {"name": "pvals"}, "transform": [{"filter": "datum.panel == 'l' && datum.cat == 'Luminal' && datum.cat2 == 'Triple negative'"}], "mark": {"type": "text", "baseline": "bottom", "dy": -1, "fontSize": 9.5, "color": "#222"}, "encoding": {"x": {"field": "cat", "type": "nominal", "bandPosition": 1.5}, "y": {"field": "y", "type": "quantitative"}, "text": {"field": "label"}}},
{"data": {"name": "pvals"}, "transform": [{"filter": "datum.panel == 'l' && !(datum.cat == 'Luminal' && datum.cat2 == 'Triple negative')"}], "mark": {"type": "text", "baseline": "bottom", "dy": -1, "fontSize": 9.5, "color": "#222"}, "encoding": {"x": {"field": "cat", "type": "nominal", "bandPosition": 1}, "y": {"field": "y", "type": "quantitative"}, "text": {"field": "label"}}}
]}
], "spacing": 10}
]
}
